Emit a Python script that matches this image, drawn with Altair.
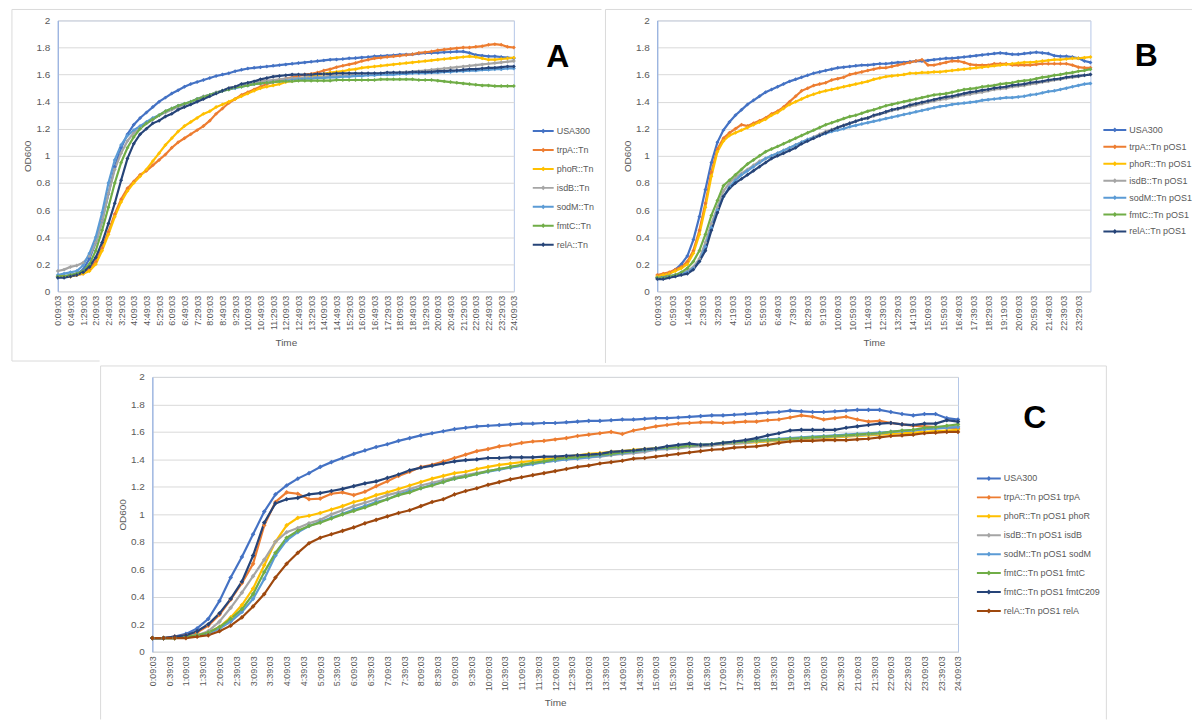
import altair as alt
import pandas as pd

# Sampling grid: minutes after midnight, one reading every 20 min from 0:09:03 to 24:09:03
TIMES = list(range(9, 1450, 20))

FONT = "Liberation Sans"
GREY_TXT = "#595959"
FRAME = "#DADADA"

# ---------------- Panel A : transposon mutants ----------------
A_NAMES = ["USA300", "trpA::Tn", "phoR::Tn", "isdB::Tn", "sodM::Tn", "fmtC::Tn", "relA::Tn"]
A_COLORS = ["#4472C4", "#ED7D31", "#FFC000", "#A5A5A5", "#5B9BD5", "#70AD47", "#264478"]

A_USA300 = [
    0.11, 0.11, 0.12, 0.13, 0.16, 0.24, 0.36, 0.52, 0.72, 0.92,
    1.06, 1.16, 1.23, 1.28, 1.32, 1.36, 1.40, 1.43, 1.46, 1.485,
    1.51, 1.53, 1.545, 1.56, 1.575, 1.59, 1.60, 1.61, 1.625, 1.635,
    1.645, 1.65, 1.655, 1.66, 1.665, 1.67, 1.675, 1.68, 1.685, 1.69,
    1.695, 1.70, 1.705, 1.71, 1.712, 1.715, 1.72, 1.722, 1.727, 1.73,
    1.735, 1.737, 1.74, 1.743, 1.747, 1.748, 1.75, 1.755, 1.76, 1.76,
    1.762, 1.765, 1.767, 1.77, 1.77, 1.76, 1.745, 1.74, 1.735, 1.735,
    1.73, 1.725, 1.72]
A_trpA = [
    0.11, 0.11, 0.11, 0.12, 0.13, 0.16, 0.22, 0.32, 0.44, 0.57,
    0.68, 0.76, 0.81, 0.86, 0.89, 0.93, 0.97, 1.01, 1.06, 1.10,
    1.13, 1.16, 1.19, 1.22, 1.26, 1.31, 1.35, 1.39, 1.42, 1.45,
    1.47, 1.49, 1.51, 1.53, 1.545, 1.56, 1.57, 1.58, 1.59, 1.60,
    1.605, 1.615, 1.63, 1.64, 1.655, 1.665, 1.675, 1.685, 1.70, 1.71,
    1.72, 1.725, 1.73, 1.735, 1.74, 1.745, 1.75, 1.76, 1.765, 1.77,
    1.78, 1.785, 1.79, 1.795, 1.80, 1.80, 1.805, 1.81, 1.82, 1.825,
    1.82, 1.805, 1.80]
A_phoR = [
    0.11, 0.11, 0.11, 0.12, 0.13, 0.15, 0.20, 0.30, 0.42, 0.55,
    0.66, 0.74, 0.80, 0.85, 0.90, 0.96, 1.02, 1.08, 1.13, 1.18,
    1.22, 1.25, 1.28, 1.31, 1.33, 1.36, 1.38, 1.40, 1.42, 1.44,
    1.46, 1.48, 1.50, 1.51, 1.52, 1.53, 1.545, 1.555, 1.565, 1.575,
    1.585, 1.595, 1.605, 1.615, 1.62, 1.625, 1.635, 1.64, 1.65, 1.655,
    1.66, 1.665, 1.67, 1.675, 1.68, 1.685, 1.69, 1.695, 1.70, 1.705,
    1.71, 1.715, 1.72, 1.725, 1.73, 1.735, 1.73, 1.72, 1.71, 1.71,
    1.715, 1.72, 1.725]
A_isdB = [
    0.15, 0.16, 0.18, 0.19, 0.21, 0.26, 0.36, 0.52, 0.72, 0.90,
    1.02, 1.11, 1.17, 1.21, 1.24, 1.27, 1.30, 1.32, 1.34, 1.36,
    1.38, 1.40, 1.42, 1.44, 1.45, 1.47, 1.48, 1.50, 1.51, 1.52,
    1.53, 1.54, 1.55, 1.555, 1.56, 1.565, 1.57, 1.575, 1.575, 1.58,
    1.58, 1.585, 1.585, 1.59, 1.59, 1.595, 1.595, 1.60, 1.60, 1.60,
    1.605, 1.605, 1.61, 1.61, 1.615, 1.62, 1.62, 1.625, 1.63, 1.635,
    1.64, 1.645, 1.65, 1.655, 1.66, 1.665, 1.67, 1.675, 1.68, 1.685,
    1.69, 1.695, 1.70]
A_sodM = [
    0.12, 0.13, 0.14, 0.15, 0.19, 0.28, 0.40, 0.58, 0.80, 0.97,
    1.08, 1.15, 1.19, 1.22, 1.25, 1.28, 1.30, 1.33, 1.35, 1.37,
    1.385, 1.40, 1.42, 1.435, 1.45, 1.465, 1.48, 1.49, 1.50, 1.51,
    1.52, 1.53, 1.535, 1.54, 1.545, 1.55, 1.555, 1.56, 1.565, 1.57,
    1.57, 1.575, 1.575, 1.58, 1.58, 1.585, 1.585, 1.59, 1.59, 1.595,
    1.595, 1.60, 1.60, 1.60, 1.605, 1.605, 1.61, 1.61, 1.61, 1.615,
    1.615, 1.62, 1.62, 1.625, 1.625, 1.63, 1.63, 1.635, 1.635, 1.64,
    1.64, 1.645, 1.645]
A_fmtC = [
    0.11, 0.11, 0.12, 0.13, 0.15, 0.20, 0.30, 0.45, 0.62, 0.80,
    0.95, 1.06, 1.14, 1.20, 1.24, 1.27, 1.30, 1.33, 1.35, 1.37,
    1.385, 1.40, 1.42, 1.435, 1.45, 1.465, 1.48, 1.49, 1.505, 1.51,
    1.52, 1.53, 1.535, 1.54, 1.545, 1.55, 1.55, 1.55, 1.555, 1.555,
    1.555, 1.555, 1.555, 1.555, 1.56, 1.56, 1.56, 1.56, 1.56, 1.56,
    1.56, 1.565, 1.565, 1.565, 1.565, 1.565, 1.565, 1.56, 1.56, 1.56,
    1.555, 1.55, 1.545, 1.54, 1.535, 1.53, 1.525, 1.52, 1.52, 1.515,
    1.515, 1.515, 1.515]
A_relA = [
    0.10, 0.10, 0.11, 0.12, 0.14, 0.18, 0.25, 0.36, 0.50, 0.65,
    0.82, 0.98, 1.09, 1.16, 1.20, 1.24, 1.26, 1.29, 1.31, 1.34,
    1.36, 1.38, 1.40, 1.42, 1.44, 1.46, 1.48, 1.50, 1.51, 1.53,
    1.54, 1.55, 1.565, 1.575, 1.585, 1.59, 1.595, 1.60, 1.60, 1.60,
    1.60, 1.605, 1.605, 1.605, 1.61, 1.61, 1.61, 1.61, 1.61, 1.61,
    1.61, 1.61, 1.615, 1.615, 1.615, 1.615, 1.62, 1.62, 1.62, 1.62,
    1.625, 1.625, 1.63, 1.63, 1.635, 1.64, 1.64, 1.645, 1.65, 1.65,
    1.655, 1.66, 1.66]

# ---------------- Panel B : mutants carrying empty pOS1 ----------------
B_NAMES = ["USA300", "trpA::Tn pOS1", "phoR::Tn pOS1", "isdB::Tn pOS1",
           "sodM::Tn pOS1", "fmtC::Tn pOS1", "relA::Tn pOS1"]
B_COLORS = A_COLORS

B_USA300 = [
    0.10, 0.11, 0.13, 0.16, 0.20, 0.26, 0.38, 0.55, 0.75, 0.95,
    1.10, 1.19, 1.25, 1.30, 1.34, 1.38, 1.41, 1.44, 1.47, 1.49,
    1.51, 1.53, 1.55, 1.565, 1.58, 1.595, 1.61, 1.62, 1.63, 1.64,
    1.65, 1.655, 1.66, 1.665, 1.67, 1.67, 1.675, 1.68, 1.68, 1.685,
    1.69, 1.69, 1.695, 1.70, 1.70, 1.705, 1.71, 1.715, 1.72, 1.72,
    1.725, 1.73, 1.735, 1.74, 1.745, 1.75, 1.755, 1.76, 1.755, 1.75,
    1.75, 1.755, 1.76, 1.765, 1.76, 1.755, 1.74, 1.735, 1.735, 1.73,
    1.72, 1.70, 1.69]
B_trpA = [
    0.12, 0.13, 0.14, 0.16, 0.18, 0.22, 0.30, 0.45, 0.65, 0.88,
    1.05, 1.13, 1.17, 1.20, 1.23, 1.22, 1.24, 1.26, 1.28, 1.31,
    1.33, 1.36, 1.40, 1.44, 1.48, 1.50, 1.52, 1.53, 1.54, 1.56,
    1.57, 1.58, 1.60, 1.61, 1.62, 1.63, 1.64, 1.65, 1.65, 1.66,
    1.67, 1.68, 1.69, 1.70, 1.71, 1.67, 1.67, 1.68, 1.69, 1.70,
    1.70, 1.69, 1.675, 1.67, 1.67, 1.67, 1.68, 1.68, 1.68, 1.67,
    1.67, 1.67, 1.67, 1.675, 1.68, 1.68, 1.68, 1.68, 1.68, 1.67,
    1.655, 1.65, 1.65]
B_phoR = [
    0.11, 0.12, 0.13, 0.15, 0.17, 0.20, 0.28, 0.42, 0.62, 0.85,
    1.03, 1.11, 1.15, 1.17, 1.19, 1.21, 1.23, 1.25, 1.27, 1.30,
    1.32, 1.35, 1.38, 1.40, 1.42, 1.44, 1.455, 1.47, 1.48, 1.49,
    1.50, 1.51, 1.52, 1.53, 1.54, 1.55, 1.565, 1.575, 1.585, 1.59,
    1.595, 1.60, 1.61, 1.61, 1.615, 1.615, 1.62, 1.62, 1.625, 1.63,
    1.635, 1.64, 1.645, 1.65, 1.655, 1.66, 1.665, 1.67, 1.675, 1.68,
    1.685, 1.69, 1.69, 1.695, 1.70, 1.705, 1.71, 1.71, 1.715, 1.72,
    1.72, 1.725, 1.73]
B_isdB = [
    0.10, 0.10, 0.11, 0.12, 0.13, 0.15, 0.18, 0.24, 0.36, 0.50,
    0.62, 0.74, 0.80, 0.84, 0.87, 0.90, 0.93, 0.96, 0.98, 1.00,
    1.02, 1.04, 1.06, 1.08, 1.10, 1.12, 1.14, 1.16, 1.18, 1.195,
    1.21, 1.225, 1.24, 1.255, 1.27, 1.28, 1.295, 1.31, 1.32, 1.335,
    1.345, 1.355, 1.365, 1.375, 1.385, 1.395, 1.405, 1.415, 1.42, 1.43,
    1.44, 1.45, 1.455, 1.465, 1.47, 1.48, 1.49, 1.495, 1.50, 1.51,
    1.515, 1.52, 1.53, 1.535, 1.545, 1.55, 1.56, 1.565, 1.575, 1.58,
    1.585, 1.595, 1.60]
B_sodM = [
    0.10, 0.10, 0.11, 0.12, 0.13, 0.14, 0.17, 0.22, 0.33, 0.47,
    0.60, 0.70, 0.77, 0.82, 0.86, 0.89, 0.92, 0.95, 0.98, 1.00,
    1.02, 1.04, 1.06, 1.08, 1.10, 1.12, 1.135, 1.15, 1.165, 1.18,
    1.19, 1.20, 1.215, 1.225, 1.235, 1.245, 1.255, 1.265, 1.275, 1.285,
    1.295, 1.305, 1.315, 1.325, 1.335, 1.345, 1.355, 1.365, 1.37, 1.38,
    1.385, 1.39, 1.395, 1.40, 1.41, 1.415, 1.42, 1.425, 1.43, 1.43,
    1.435, 1.44, 1.45, 1.455, 1.465, 1.475, 1.48, 1.49, 1.50, 1.51,
    1.52, 1.53, 1.535]
B_fmtC = [
    0.10, 0.10, 0.11, 0.12, 0.14, 0.17, 0.22, 0.30, 0.42, 0.56,
    0.67, 0.78, 0.82, 0.86, 0.90, 0.94, 0.97, 1.00, 1.03, 1.05,
    1.07, 1.09, 1.11, 1.13, 1.15, 1.17, 1.19, 1.21, 1.23, 1.245,
    1.26, 1.275, 1.29, 1.30, 1.315, 1.33, 1.34, 1.355, 1.37, 1.38,
    1.39, 1.40, 1.41, 1.42, 1.43, 1.44, 1.45, 1.455, 1.46, 1.47,
    1.48, 1.49, 1.495, 1.50, 1.51, 1.515, 1.52, 1.53, 1.535, 1.54,
    1.55, 1.555, 1.56, 1.57, 1.58, 1.585, 1.595, 1.60, 1.61, 1.615,
    1.625, 1.63, 1.64]
B_relA = [
    0.09, 0.09, 0.10, 0.11, 0.12, 0.13, 0.16, 0.22, 0.30, 0.45,
    0.58, 0.70, 0.76, 0.80, 0.83, 0.86, 0.89, 0.92, 0.95, 0.98,
    1.00, 1.02, 1.04, 1.06, 1.09, 1.11, 1.13, 1.15, 1.17, 1.19,
    1.21, 1.225, 1.24, 1.255, 1.27, 1.28, 1.30, 1.31, 1.325, 1.34,
    1.35, 1.36, 1.375, 1.385, 1.395, 1.405, 1.415, 1.425, 1.435, 1.44,
    1.45, 1.46, 1.47, 1.475, 1.485, 1.49, 1.50, 1.505, 1.51, 1.52,
    1.525, 1.53, 1.54, 1.545, 1.55, 1.56, 1.565, 1.57, 1.58, 1.585,
    1.59, 1.595, 1.60]

# ---------------- Panel C : complemented mutants ----------------
C_NAMES = ["USA300", "trpA::Tn pOS1 trpA", "phoR::Tn pOS1 phoR", "isdB::Tn pOS1 isdB",
           "sodM::Tn pOS1 sodM", "fmtC::Tn pOS1 fmtC", "fmtC::Tn pOS1 fmtC209",
           "relA::Tn pOS1 relA"]
C_COLORS = ["#4472C4", "#ED7D31", "#FFC000", "#A5A5A5", "#5B9BD5", "#70AD47",
            "#264478", "#9E480E"]

C_USA300 = [
    0.10, 0.10, 0.11, 0.13, 0.17, 0.24, 0.37, 0.54, 0.69, 0.855,
    1.02, 1.145, 1.21, 1.26, 1.30, 1.345, 1.38, 1.41, 1.44, 1.465,
    1.49, 1.51, 1.535, 1.555, 1.575, 1.59, 1.605, 1.62, 1.63, 1.64,
    1.645, 1.65, 1.655, 1.66, 1.66, 1.665, 1.665, 1.67, 1.675, 1.68,
    1.68, 1.685, 1.69, 1.69, 1.695, 1.70, 1.70, 1.705, 1.71, 1.715,
    1.72, 1.72, 1.725, 1.73, 1.735, 1.74, 1.745, 1.755, 1.75, 1.745,
    1.745, 1.75, 1.755, 1.76, 1.76, 1.76, 1.745, 1.73, 1.72, 1.73,
    1.73, 1.70, 1.69]
C_trpA = [
    0.10, 0.10, 0.11, 0.12, 0.14, 0.19, 0.27, 0.38, 0.50, 0.64,
    0.92, 1.09, 1.16, 1.15, 1.11, 1.115, 1.15, 1.16, 1.14, 1.165,
    1.205, 1.24, 1.28, 1.31, 1.345, 1.36, 1.385, 1.41, 1.435, 1.46,
    1.475, 1.495, 1.505, 1.52, 1.53, 1.535, 1.545, 1.555, 1.57, 1.58,
    1.59, 1.60, 1.585, 1.61, 1.625, 1.64, 1.65, 1.66, 1.665, 1.67,
    1.67, 1.665, 1.67, 1.675, 1.675, 1.685, 1.69, 1.705, 1.72, 1.71,
    1.69, 1.70, 1.71, 1.69, 1.675, 1.68, 1.665, 1.655, 1.645, 1.64,
    1.635, 1.63, 1.625]
C_phoR = [
    0.10, 0.10, 0.10, 0.11, 0.12, 0.14, 0.18, 0.25, 0.34, 0.46,
    0.63, 0.80, 0.92, 0.975, 0.99, 1.01, 1.035, 1.06, 1.09, 1.11,
    1.14, 1.16, 1.185, 1.21, 1.235, 1.26, 1.28, 1.30, 1.31, 1.33,
    1.345, 1.36, 1.37, 1.38, 1.39, 1.40, 1.41, 1.42, 1.43, 1.44,
    1.445, 1.455, 1.46, 1.47, 1.475, 1.48, 1.485, 1.49, 1.495, 1.50,
    1.505, 1.51, 1.515, 1.52, 1.525, 1.53, 1.535, 1.54, 1.545, 1.55,
    1.555, 1.56, 1.565, 1.57, 1.575, 1.58, 1.585, 1.59, 1.595, 1.60,
    1.605, 1.61, 1.615]
C_isdB = [
    0.10, 0.10, 0.10, 0.11, 0.12, 0.15, 0.22, 0.32, 0.43, 0.55,
    0.67, 0.80, 0.87, 0.90, 0.935, 0.96, 1.00, 1.03, 1.06, 1.085,
    1.11, 1.14, 1.16, 1.185, 1.21, 1.23, 1.25, 1.27, 1.285, 1.30,
    1.315, 1.33, 1.345, 1.355, 1.37, 1.38, 1.39, 1.40, 1.41, 1.415,
    1.42, 1.43, 1.44, 1.445, 1.455, 1.47, 1.475, 1.48, 1.49, 1.495,
    1.50, 1.51, 1.515, 1.52, 1.53, 1.535, 1.54, 1.545, 1.55, 1.555,
    1.56, 1.565, 1.57, 1.575, 1.58, 1.585, 1.60, 1.605, 1.61, 1.62,
    1.625, 1.63, 1.64]
C_sodM = [
    0.10, 0.10, 0.10, 0.11, 0.12, 0.13, 0.17, 0.22, 0.29, 0.385,
    0.53, 0.70, 0.81, 0.87, 0.915, 0.945, 0.975, 1.005, 1.035, 1.06,
    1.09, 1.11, 1.145, 1.17, 1.19, 1.215, 1.235, 1.26, 1.275, 1.295,
    1.31, 1.325, 1.34, 1.355, 1.365, 1.38, 1.39, 1.40, 1.405, 1.415,
    1.425, 1.435, 1.445, 1.455, 1.465, 1.475, 1.48, 1.49, 1.50, 1.505,
    1.51, 1.52, 1.525, 1.53, 1.54, 1.545, 1.55, 1.555, 1.56, 1.565,
    1.57, 1.575, 1.58, 1.585, 1.59, 1.595, 1.60, 1.605, 1.61, 1.62,
    1.625, 1.63, 1.635]
C_fmtC = [
    0.10, 0.10, 0.10, 0.11, 0.12, 0.14, 0.18, 0.24, 0.31, 0.42,
    0.58, 0.72, 0.83, 0.88, 0.915, 0.94, 0.97, 1.00, 1.025, 1.05,
    1.08, 1.11, 1.14, 1.16, 1.19, 1.21, 1.235, 1.26, 1.275, 1.295,
    1.315, 1.33, 1.345, 1.36, 1.375, 1.385, 1.40, 1.41, 1.415, 1.425,
    1.435, 1.44, 1.45, 1.46, 1.47, 1.48, 1.485, 1.49, 1.50, 1.505,
    1.51, 1.52, 1.525, 1.53, 1.535, 1.54, 1.545, 1.55, 1.555, 1.56,
    1.565, 1.57, 1.575, 1.58, 1.585, 1.59, 1.60, 1.61, 1.615, 1.63,
    1.635, 1.645, 1.655]
C_fmtC209 = [
    0.10, 0.10, 0.11, 0.12, 0.15, 0.20, 0.28, 0.385, 0.51, 0.70,
    0.94, 1.08, 1.11, 1.12, 1.145, 1.155, 1.17, 1.185, 1.205, 1.225,
    1.24, 1.265, 1.29, 1.32, 1.34, 1.355, 1.37, 1.385, 1.395, 1.40,
    1.41, 1.41, 1.415, 1.415, 1.415, 1.42, 1.42, 1.425, 1.43, 1.435,
    1.44, 1.455, 1.46, 1.465, 1.475, 1.48, 1.495, 1.505, 1.515, 1.505,
    1.51, 1.52, 1.53, 1.54, 1.555, 1.575, 1.59, 1.61, 1.615, 1.615,
    1.615, 1.615, 1.63, 1.64, 1.65, 1.66, 1.665, 1.655, 1.65, 1.66,
    1.66, 1.685, 1.675]
C_relA = [
    0.10, 0.10, 0.10, 0.10, 0.11, 0.12, 0.15, 0.19, 0.25, 0.33,
    0.42, 0.54, 0.64, 0.72, 0.79, 0.83, 0.855, 0.88, 0.905, 0.935,
    0.96, 0.985, 1.01, 1.03, 1.06, 1.09, 1.11, 1.145, 1.17, 1.19,
    1.215, 1.235, 1.255, 1.27, 1.285, 1.30, 1.315, 1.33, 1.345, 1.355,
    1.37, 1.38, 1.39, 1.405, 1.41, 1.42, 1.43, 1.44, 1.45, 1.46,
    1.47, 1.475, 1.485, 1.49, 1.495, 1.505, 1.52, 1.53, 1.535, 1.535,
    1.54, 1.54, 1.54, 1.545, 1.55, 1.56, 1.57, 1.575, 1.58, 1.59,
    1.595, 1.60, 1.60]

# Axis ticks (minutes) -- each panel labels the time axis with its own step
A_TICKS = list(range(9, 1450, 40))
B_TICKS = list(range(9, 1410, 50))
C_TICKS = list(range(9, 1450, 30))
Y_TICKS = [0, 0.2, 0.4, 0.6, 0.8, 1, 1.2, 1.4, 1.6, 1.8, 2]

TIME_LABEL = ("floor(datum.value / 60) + ':' + (datum.value % 60 < 10 ? '0' : '') "
              "+ (datum.value % 60) + ':03'")

# legend glyph: short line with a small diamond in the middle
LEGEND_GLYPH = "M-1,0H1M0,-0.09L0.09,0L0,0.09L-0.09,0Z"


def long_table(names, series):
    rows = []
    for name, vals in zip(names, series):
        assert len(vals) == len(TIMES), name
        for t, v in zip(TIMES, vals):
            rows.append({"series": name, "t": t, "od": v})
    return pd.DataFrame(rows)


def frame_rule(x1, y1, x2, y2):
    """Thin panel-border segment, in pixels relative to the plot area."""
    return alt.Chart(pd.DataFrame({"k": [0]})).mark_rule(
        color=FRAME, strokeWidth=1).encode(
        x=alt.value(x1), y=alt.value(y1), x2=alt.value(x2), y2=alt.value(y2))


def panel(names, colors, series, ticks, letter, w, h, leg_x, leg_y, row_h, glyph_w,
          let_x, let_y, dot_size, frames):
    df = long_table(names, series)
    x = alt.X("t:Q",
              scale=alt.Scale(domain=[9, 1449], nice=False, zero=False),
              axis=alt.Axis(values=ticks, labelExpr=TIME_LABEL, labelAngle=270,
                            labelAlign="right", labelBaseline="middle", labelFlush=False,
                            labelOverlap=False, labelFontSize=9, labelColor=GREY_TXT,
                            labelFont=FONT, labelPadding=4, ticks=False, grid=False,
                            domainColor="#D9D9D9", title="Time", titleFont=FONT,
                            titleFontSize=10, titleFontWeight="normal",
                            titleColor=GREY_TXT, titlePadding=7))
    y = alt.Y("od:Q",
              scale=alt.Scale(domain=[0, 2], nice=False, zero=True),
              axis=alt.Axis(values=Y_TICKS, format="~g", grid=True, gridColor="#D9D9D9",
                            ticks=False, domainColor="#8FAADC", labelFontSize=10,
                            labelColor=GREY_TXT, labelFont=FONT, labelPadding=8,
                            title="OD600", titleFont=FONT, titleFontSize=10,
                            titleFontWeight="normal", titleColor=GREY_TXT,
                            titlePadding=3))
    scale = alt.Scale(domain=names, range=colors)
    legend = alt.Legend(orient="none", legendX=leg_x, legendY=leg_y, title=None,
                        symbolType=LEGEND_GLYPH, symbolSize=glyph_w * glyph_w,
                        symbolStrokeWidth=2, clipHeight=row_h, rowPadding=0,
                        labelFontSize=9, labelColor=GREY_TXT, labelFont=FONT,
                        labelOffset=2, padding=0, labelLimit=0)
    base = alt.Chart(df)
    lines = base.mark_line(strokeWidth=2.2).encode(
        x=x, y=y, color=alt.Color("series:N", scale=scale, sort=names, legend=legend))
    dots = base.mark_point(shape="diamond", filled=True, size=dot_size, opacity=1).encode(
        x=x, y=y, color=alt.Color("series:N", scale=scale, sort=names, legend=None))
    tag = alt.Chart(pd.DataFrame({"s": [letter]})).mark_text(
        font=FONT, fontSize=32, fontWeight="bold", color="black",
        align="center", baseline="middle").encode(
        text="s:N", x=alt.value(let_x), y=alt.value(let_y))
    borders = [frame_rule(*f) for f in frames]
    return alt.layer(*borders, lines, dots, tag).properties(
        width=w, height=h, view=alt.ViewBackground(stroke="#B4C7E7", strokeWidth=1))


panel_a = panel(A_NAMES, A_COLORS,
                [A_USA300, A_trpA, A_phoR, A_isdB, A_sodM, A_fmtC, A_relA],
                A_TICKS, "A", 458, 272, 476, 102, 18.3, 21, 502, 37, 16,
                [(-46, -11, -46, 342), (-46, -11, 546, -11), (-46, 342, 42, 342)])
panel_b = panel(B_NAMES, B_COLORS,
                [B_USA300, B_trpA, B_phoR, B_isdB, B_sodM, B_fmtC, B_relA],
                B_TICKS, "B", 435, 272, 447, 101.5, 16.9, 23, 491, 36, 16,
                [(-52, -11, -52, 344), (-52, -11, 537, -11)])
panel_c = panel(C_NAMES, C_COLORS,
                [C_USA300, C_trpA, C_phoR, C_isdB, C_sodM, C_fmtC, C_fmtC209, C_relA],
                C_TICKS, "C", 809, 276, 827, 92.5, 18.9, 24, 886, 41, 22,
                [(-52, -11, 958, -11), (-52, -11, -52, 344), (958, -11, 958, 344)])

spacer = alt.Chart(pd.DataFrame({"z": [0]})).mark_point(opacity=0, size=1).encode(
    x=alt.value(0), y=alt.value(0)).properties(
    width=42, height=10, view=alt.ViewBackground(strokeOpacity=0))

top_row = alt.hconcat(panel_a, panel_b, spacing=2).resolve_scale(color="independent")
bottom_row = alt.hconcat(spacer, panel_c, spacing=0).resolve_scale(color="independent")

chart = alt.vconcat(top_row, bottom_row, spacing=1).resolve_scale(
    color="independent").properties(
    padding={"left": 11, "top": 7, "right": 0, "bottom": 0},
    background="white")

chart.save("out.html", embed_options={"renderer": "svg", "actions": False})
